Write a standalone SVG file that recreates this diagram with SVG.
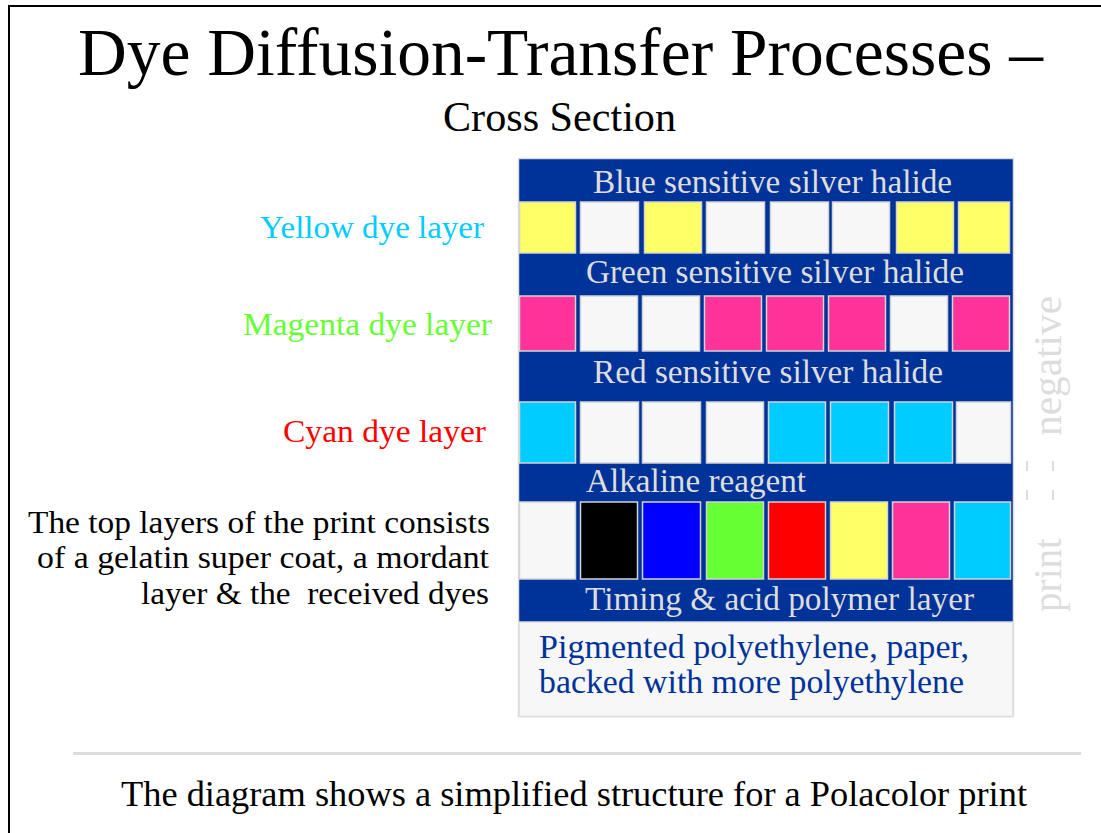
<svg xmlns="http://www.w3.org/2000/svg" width="1101" height="833" viewBox="0 0 1101 833" font-family="'Liberation Serif', serif">
<style>
text{font-family:'Liberation Serif','Times New Roman',serif}
.band{fill:#dddddd;font-size:33px}
.lbl{font-size:32px}
.c{stroke:#d4d4d4;stroke-width:1.5}
.Y{fill:#ffff66}.W{fill:#f7f7f7}.M{fill:#ff3399}.C{fill:#00ccff}.K{fill:#000000}.B{fill:#0000ff}.G{fill:#66ff33}.R{fill:#ff0000}
.side{fill:#dddddd;font-size:40px}
</style>
<rect width="1101" height="833" fill="#ffffff"/>
<g id="frame" stroke="#000" stroke-width="2" fill="none">
<line x1="9" y1="6" x2="9" y2="833"/>
<line x1="8" y1="6" x2="1101" y2="6"/>
</g>
<g id="title">
<text x="78" y="75" font-size="67" textLength="965" lengthAdjust="spacingAndGlyphs" fill="#000">Dye Diffusion-Transfer Processes –</text>
<text x="443" y="131" font-size="42" textLength="233" lengthAdjust="spacingAndGlyphs" fill="#000">Cross Section</text>
</g>
<g id="table">
<rect x="518.5" y="158.5" width="495" height="558" fill="#003399" stroke="#dddddd" stroke-width="1.5"/>
<rect x="519" y="622" width="494" height="94.5" fill="#f7f7f7" stroke="#dddddd" stroke-width="1.5"/>
</g>
<g id="band-blue"><text class="band" x="593" y="193" textLength="359" lengthAdjust="spacingAndGlyphs">Blue sensitive silver halide</text></g>
<g id="row-yellow">
<rect class="c Y" x="519.5" y="202" width="56" height="51"/>
<rect class="c W" x="580.5" y="202" width="58" height="51"/>
<rect class="c Y" x="644.5" y="202" width="57" height="51"/>
<rect class="c W" x="706.5" y="202" width="58" height="51"/>
<rect class="c W" x="770.5" y="202" width="58" height="51"/>
<rect class="c W" x="832.5" y="202" width="57" height="51"/>
<rect class="c Y" x="896.5" y="202" width="57" height="51"/>
<rect class="c Y" x="958.5" y="202" width="51" height="51"/>
</g>
<g id="band-green"><text class="band" x="586" y="283" textLength="378" lengthAdjust="spacingAndGlyphs">Green sensitive silver halide</text></g>
<g id="row-magenta">
<rect class="c M" x="519.5" y="296" width="56" height="55"/>
<rect class="c W" x="580.5" y="296" width="57" height="55"/>
<rect class="c W" x="642.5" y="296" width="57" height="55"/>
<rect class="c M" x="704.5" y="296" width="57" height="55"/>
<rect class="c M" x="766.5" y="296" width="57" height="55"/>
<rect class="c M" x="828.5" y="296" width="57" height="55"/>
<rect class="c W" x="890.5" y="296" width="57" height="55"/>
<rect class="c M" x="952.5" y="296" width="57" height="55"/>
</g>
<g id="band-red"><text class="band" x="593" y="383" textLength="350" lengthAdjust="spacingAndGlyphs">Red sensitive silver halide</text></g>
<g id="row-cyan">
<rect class="c C" x="519.5" y="402" width="56" height="61"/>
<rect class="c W" x="580.5" y="402" width="58" height="61"/>
<rect class="c W" x="642.5" y="402" width="58" height="61"/>
<rect class="c W" x="706.5" y="402" width="57" height="61"/>
<rect class="c C" x="768.5" y="402" width="57" height="61"/>
<rect class="c C" x="830.5" y="402" width="58" height="61"/>
<rect class="c C" x="894.5" y="402" width="58" height="61"/>
<rect class="c W" x="956.5" y="402" width="54" height="61"/>
</g>
<g id="band-alkaline"><text class="band" x="586" y="492" textLength="220" lengthAdjust="spacingAndGlyphs">Alkaline reagent</text></g>
<g id="row-print">
<rect class="c W" x="519.5" y="502" width="56" height="77"/>
<rect class="c K" x="580.5" y="502" width="57" height="77"/>
<rect class="c B" x="642.5" y="502" width="58" height="77"/>
<rect class="c G" x="706.5" y="502" width="57" height="77"/>
<rect class="c R" x="768.5" y="502" width="57" height="77"/>
<rect class="c Y" x="830.5" y="502" width="57" height="77"/>
<rect class="c M" x="892.5" y="502" width="57" height="77"/>
<rect class="c C" x="954.5" y="502" width="56" height="77"/>
</g>
<g id="band-timing"><text class="band" x="585" y="610" textLength="389" lengthAdjust="spacingAndGlyphs">Timing &amp; acid polymer layer</text></g>
<g id="base-layer">
<text x="539" y="658" font-size="33" fill="#003399" textLength="430" lengthAdjust="spacingAndGlyphs">Pigmented polyethylene, paper,</text>
<text x="539" y="693" font-size="33" fill="#003399" textLength="425" lengthAdjust="spacingAndGlyphs">backed with more polyethylene</text>
</g>
<g id="label-yellow"><text class="lbl" x="260" y="238" fill="#00ccff" textLength="224" lengthAdjust="spacingAndGlyphs">Yellow dye layer</text></g>
<g id="label-magenta"><text class="lbl" x="243" y="335" fill="#66ff33" textLength="249" lengthAdjust="spacingAndGlyphs">Magenta dye layer</text></g>
<g id="label-cyan"><text class="lbl" x="283" y="442" fill="#ff0000" textLength="203" lengthAdjust="spacingAndGlyphs">Cyan dye layer</text></g>
<g id="label-print-top" fill="#000">
<text class="lbl" x="28" y="533" textLength="462" lengthAdjust="spacingAndGlyphs">The top layers of the print consists</text>
<text class="lbl" x="37" y="568" textLength="452" lengthAdjust="spacingAndGlyphs">of a gelatin super coat, a mordant</text>
<text class="lbl" x="141" y="604" textLength="348" lengthAdjust="spacingAndGlyphs" xml:space="preserve">layer &amp; the  received dyes</text>
</g>
<g id="side-labels">
<text class="side" transform="translate(1061,436) rotate(-90)" textLength="140" lengthAdjust="spacingAndGlyphs">negative</text>
<text class="side" transform="translate(1061,612) rotate(-90)" textLength="74" lengthAdjust="spacingAndGlyphs">print</text>
<g stroke="#dddddd" stroke-width="2">
<line x1="1027" y1="461" x2="1027" y2="471"/>
<line x1="1053" y1="461" x2="1053" y2="471"/>
<line x1="1027" y1="490" x2="1027" y2="500"/>
<line x1="1053" y1="490" x2="1053" y2="500"/>
</g>
</g>
<g id="footer">
<line x1="73" y1="753.5" x2="1081" y2="753.5" stroke="#dddddd" stroke-width="3"/>
<text x="121" y="806" font-size="36" textLength="906" lengthAdjust="spacingAndGlyphs" fill="#000">The diagram shows a simplified structure for a Polacolor print</text>
</g>
</svg>
